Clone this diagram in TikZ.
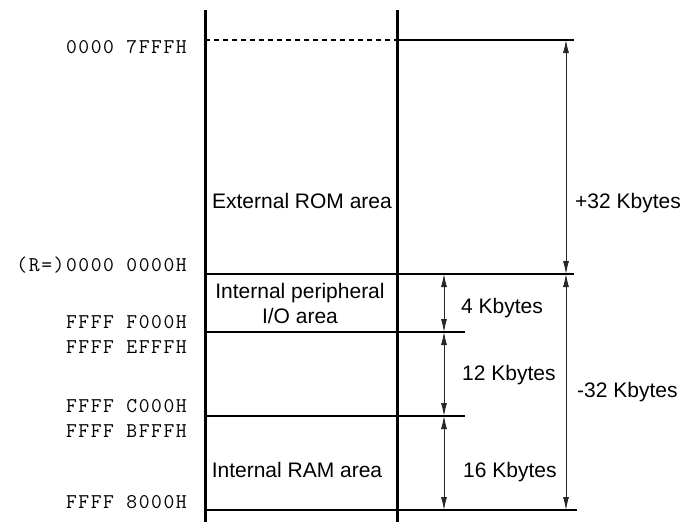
\documentclass[tikz,border=0pt]{standalone}
\usepackage{fontspec}
\setmainfont{Liberation Sans}
\newfontfamily\addrfont[LetterSpace=7.5]{Latin Modern Mono}
\usetikzlibrary{arrows.meta}
\begin{document}
\begin{tikzpicture}[x=1pt,y=-1pt,
  colline/.style={line width=3pt},
  sepline/.style={line width=1.2pt},
  dimarrow/.style={line width=0.8pt, draw=black!85,
     {Latex[length=13pt,width=6pt]}-{Latex[length=13pt,width=6pt]}},
  lbl/.style={font=\fontsize{21}{25}\selectfont, inner sep=0pt},
  addr/.style={font=\addrfont\fontsize{21}{25}\selectfont, anchor=base east, inner sep=0pt}]
\useasboundingbox (0,0) rectangle (683,522);
% columns
\coordinate (L0) at (205,10); \coordinate (L1) at (205,522);
\coordinate (R0) at (397,10); \coordinate (R1) at (397,522);
\draw[colline] (L0) -- (L1);
\draw[colline] (R0) -- (R1);
% boundary coordinates
\coordinate (aL) at (205,40);  \coordinate (aR) at (397,40);  \coordinate (aE) at (574,40);
\coordinate (bL) at (205,274); \coordinate (bE) at (574,274);
\coordinate (cL) at (205,332); \coordinate (cE) at (465,332);
\coordinate (dL) at (205,416); \coordinate (dE) at (465,416);
\coordinate (eL) at (205,510); \coordinate (eE) at (577,510);
\draw[sepline, dashed, dash pattern=on 5pt off 4pt] (aL) -- (aR);
\draw[sepline] (aR) -- (aE);
\draw[sepline] (bL) -- (bE);
\draw[sepline] (cL) -- (cE);
\draw[sepline] (dL) -- (dE);
\draw[sepline] (eL) -- (eE);
% dimension arrows
\coordinate (p1) at (566,40);  \coordinate (p2) at (566,274); \coordinate (p3) at (566,510);
\coordinate (q1) at (444,274); \coordinate (q2) at (444,332); \coordinate (q3) at (444,416); \coordinate (q4) at (444,510);
\draw[dimarrow] (p1) -- (p2);
\draw[dimarrow] (p2) -- (p3);
\draw[dimarrow] (q1) -- (q2);
\draw[dimarrow] (q2) -- (q3);
\draw[dimarrow] (q3) -- (q4);
% size labels
\node[lbl, anchor=base west] (s32p) at (575,208) {+32 Kbytes};
\node[lbl, anchor=base west] (s32m) at (577,397) {-32 Kbytes};
\node[lbl, anchor=base west] (s4) at (461,313) {4 Kbytes};
\node[lbl, anchor=base west] (s12) at (462,380) {12 Kbytes};
\node[lbl, anchor=base west] (s16) at (463,477) {16 Kbytes};
% area labels
\node[lbl, anchor=base] (rom) at (302,208) {External ROM area};
\node[lbl, anchor=base] (pio1) at (300,298) {Internal peripheral};
\node[lbl, anchor=base] (pio2) at (300,323) {I/O area};
\node[lbl, anchor=base] (ram) at (297,477) {Internal RAM area};
% addresses
\node[addr] (a1) at (187,53) {0000 7FFFH};
\node[addr] (a2) at (187,271) {(R=)0000 0000H};
\node[addr] (a3) at (187,328) {FFFF F000H};
\node[addr] (a4) at (187,353) {FFFF EFFFH};
\node[addr] (a5) at (187,412) {FFFF C000H};
\node[addr] (a6) at (187,437) {FFFF BFFFH};
\node[addr] (a7) at (187,508) {FFFF 8000H};
\end{tikzpicture}
\end{document}
